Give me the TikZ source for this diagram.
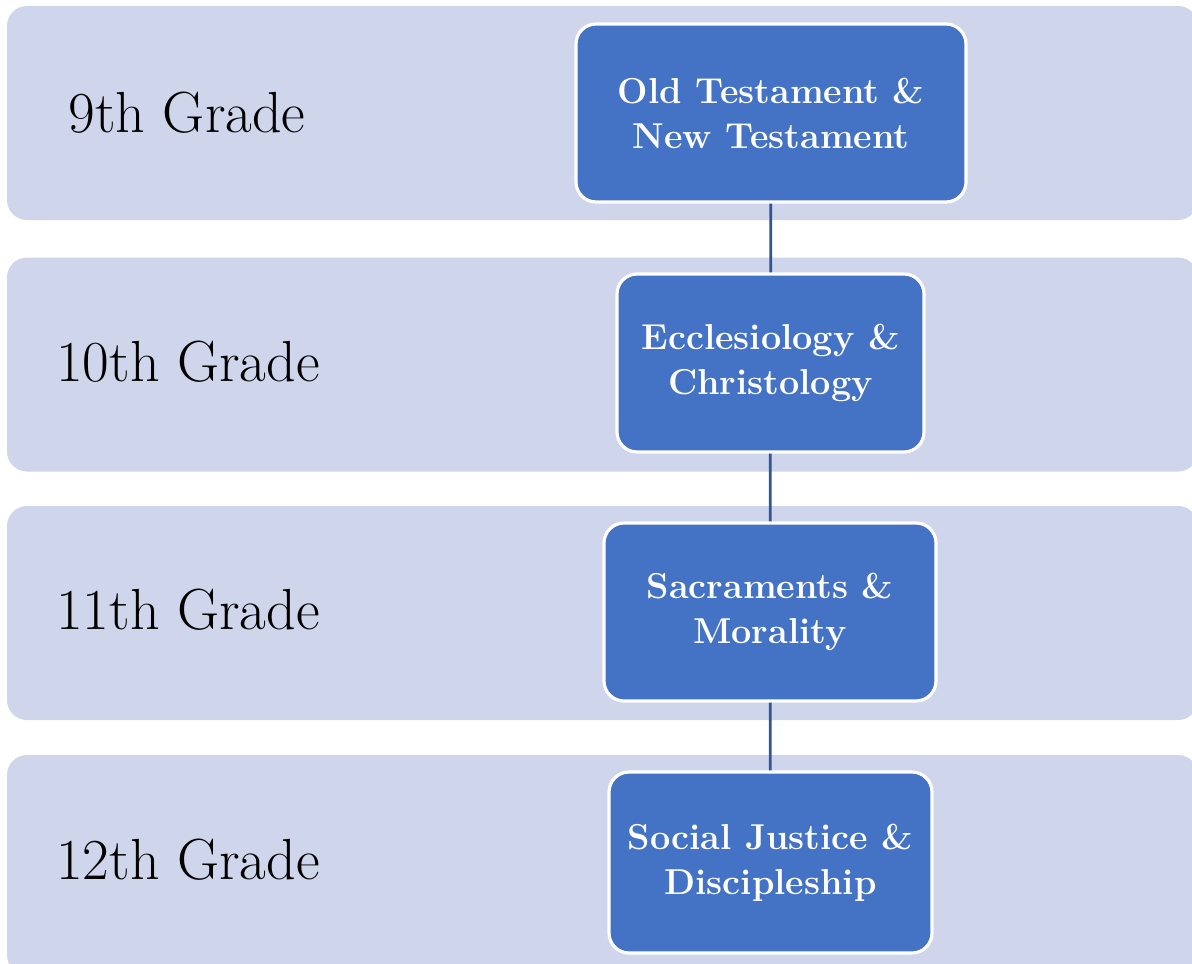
\documentclass[tikz,border=0pt]{standalone}
\usepackage{tikz}
\usepackage{xcolor}
\usetikzlibrary{positioning}
\definecolor{bandfill}{HTML}{CFD5EA}
\definecolor{topicfill}{HTML}{4472C4}
\definecolor{linkcol}{HTML}{2F5597}

\begin{document}
\begin{tikzpicture}[
  x=0.5pt, y=-0.5pt,
  band/.style={rectangle, rounded corners=10pt, fill=bandfill, draw=none,
               minimum width=595.5pt, minimum height=107pt, inner sep=0pt},
  grade/.style={font=\fontsize{29}{33}\selectfont, text=black, inner sep=0pt},
  topic/.style={rectangle, rounded corners=10pt, fill=topicfill, draw=white,
                line width=1.6pt, minimum height=89pt, align=center, text=white,
                font=\fontsize{18}{22.5}\selectfont\bfseries, inner sep=0pt},
  link/.style={draw=linkcol, line width=1.4pt}
]
\clip (0,0) rectangle (1192,963);

\node[band] (B9)  at (602.5,113) {};
\node[band] (B10) at (602.5,364.5) {};
\node[band] (B11) at (602.5,613) {};
\node[band, minimum height=110pt] (B12) at (602.5,865) {};

\node[grade] (G9)  at (187,113) {9th Grade};
\node[grade] (G10) at (188,362) {10th Grade};
\node[grade] (G11) at (188,610) {11th Grade};
\node[grade] (G12) at (188,860) {12th Grade};

\node[topic, minimum width=195pt] (T9) at (771,113) {Old Testament \&\\New Testament};
\node[topic, minimum width=153.5pt] (T10) at (770.5,363) {Ecclesiology \&\\Christology};
\node[topic, minimum width=166pt] (T11) at (770,612) {Sacraments \&\\Morality};
\node[topic, minimum width=161.5pt, minimum height=90.5pt] (T12) at (770.5,862.5) {Social Justice \&\\Discipleship};

\draw[link] (T9) -- (T10);
\draw[link] (T10) -- (T11);
\draw[link] (T11) -- (T12);
\end{tikzpicture}
\end{document}
